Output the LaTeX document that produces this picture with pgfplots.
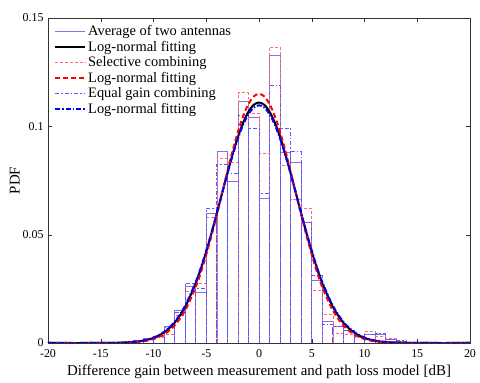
\documentclass[border=0pt]{standalone}
\usepackage{fontspec}
\setmainfont{Liberation Serif}
\usepackage{pgfplots}
\pgfplotsset{compat=1.18}
\usepackage{pgfplotstable}
\definecolor{avgpurple}{rgb}{0.55,0.43,0.88}
\definecolor{selred}{rgb}{1,0.43,0.43}
\definecolor{egcblue}{rgb}{0.35,0.35,1}

% histogram: bin centre, density
\pgfplotstableread{
x y
-12.5 0.0005
-11.5 0.0010
-10.5 0.0021
-9.5 0.0032
-8.5 0.0075
-7.5 0.0149
-6.5 0.0260
-5.5 0.0234
-4.5 0.0598
-3.5 0.0883
-2.5 0.0748
-1.5 0.1117
-0.5 0.1040
0.5 0.0666
1.5 0.1326
2.5 0.0880
3.5 0.0834
4.5 0.0555
5.5 0.0291
6.5 0.0098
7.5 0.0078
8.5 0.0060
9.5 0.0032
10.5 0.0040
11.5 0.0038
12.5 0.0015
13.5 0.0010
14.5 0.0005
15.5 0.0003
}\histavg

\pgfplotstableread{
x y
-12.5 0.0003
-11.5 0.0008
-10.5 0.0015
-9.5 0.0025
-8.5 0.0040
-7.5 0.0130
-6.5 0.0240
-5.5 0.0275
-4.5 0.0580
-3.5 0.0852
-2.5 0.0832
-1.5 0.1155
-0.5 0.1060
0.5 0.0877
1.5 0.1367
2.5 0.0821
3.5 0.0663
4.5 0.0621
5.5 0.0245
6.5 0.0132
7.5 0.0045
8.5 0.0040
9.5 0.0025
10.5 0.0055
11.5 0.0030
12.5 0.0022
13.5 0.0010
14.5 0.0005
15.5 0.0003
}\histsel

\pgfplotstableread{
x y
-12.5 0.0004
-11.5 0.0010
-10.5 0.0018
-9.5 0.0030
-8.5 0.0072
-7.5 0.0143
-6.5 0.0275
-5.5 0.0250
-4.5 0.0621
-3.5 0.0826
-2.5 0.0783
-1.5 0.1050
-0.5 0.0990
0.5 0.0690
1.5 0.1188
2.5 0.0990
3.5 0.0883
4.5 0.0555
5.5 0.0310
6.5 0.0088
7.5 0.0075
8.5 0.0057
9.5 0.0032
10.5 0.0040
11.5 0.0045
12.5 0.0015
13.5 0.0010
14.5 0.0005
15.5 0.0003
}\histegc

\pgfplotstableread{
x y
-20 0
-16 0
-15 0.00001
-14 0.00006
-13 0.00016
-12 0.00042
-11 0.00103
-10 0.00231
-9 0.00482
-8 0.00932
-7 0.01665
-6 0.02755
-5.5 0.03441
-5 0.04217
-4.5 0.05068
-4 0.05975
-3.5 0.06908
-3 0.07834
-2.5 0.08714
-2 0.09508
-1.5 0.10174
-1 0.10678
-0.5 0.10993
0 0.11100
0.5 0.10993
1 0.10678
1.5 0.10174
2 0.09508
2.5 0.08714
3 0.07834
3.5 0.06908
4 0.05975
4.5 0.05068
5 0.04217
5.5 0.03441
6 0.02755
7 0.01665
8 0.00932
9 0.00482
10 0.00231
11 0.00103
12 0.00042
13 0.00016
14 0.00006
15 0.00001
16 0
20 0
}\fitavg

\pgfplotstableread{
x y
-20 0
-16 0
-15 0.00001
-14 0.00003
-13 0.00010
-12 0.00029
-11 0.00075
-10 0.00181
-9 0.00398
-8 0.00805
-7 0.01502
-6 0.02577
-5.5 0.03273
-5 0.04070
-4.5 0.04959
-4 0.05916
-3.5 0.06913
-3 0.07913
-2.5 0.08870
-2 0.09739
-1.5 0.10474
-1 0.11032
-0.5 0.11381
0 0.11500
0.5 0.11381
1 0.11032
1.5 0.10474
2 0.09739
2.5 0.08870
3 0.07913
3.5 0.06913
4 0.05916
4.5 0.04959
5 0.04070
5.5 0.03273
6 0.02577
7 0.01502
8 0.00805
9 0.00398
10 0.00181
11 0.00075
12 0.00029
13 0.00010
14 0.00003
15 0.00001
16 0
20 0
}\fitsel

\pgfplotstableread{
x y
-20 0
-16 0
-15 0.00002
-14 0.00007
-13 0.00018
-12 0.00047
-11 0.00113
-10 0.00250
-9 0.00513
-8 0.00976
-7 0.01721
-6 0.02813
-5.5 0.03496
-5 0.04263
-4.5 0.05102
-4 0.05991
-3.5 0.06903
-3 0.07806
-2.5 0.08661
-2 0.09430
-1.5 0.10075
-1 0.10563
-0.5 0.10867
0 0.10970
0.5 0.10867
1 0.10563
1.5 0.10075
2 0.09430
2.5 0.08661
3 0.07806
3.5 0.06903
4 0.05991
4.5 0.05102
5 0.04263
5.5 0.03496
6 0.02813
7 0.01721
8 0.00976
9 0.00513
10 0.00250
11 0.00113
12 0.00047
13 0.00018
14 0.00007
15 0.00002
16 0
20 0
}\fitegc

\begin{document}
\begin{tikzpicture}
\begin{axis}[
  name=main,
  scale only axis,
  width=422bp, height=325bp,
  xmin=-20, xmax=20, ymin=0, ymax=0.15,
  xtick={-20,-15,-10,-5,0,5,10,15,20},
  xticklabels={-20,-15,-10,-5,0,5,10,15,20},
  ytick={0,0.05,0.1,0.15},
  yticklabels={0,0.05,0.1,0.15},
  tick align=inside,
  major tick length=4bp,
  axis line style={black!80},
  tick style={black!80},
  xticklabel style={font=\fontsize{12}{14}\selectfont, yshift=-3bp},
  yticklabel style={font=\fontsize{12}{14}\selectfont, xshift=-1bp},
  xlabel style={font=\fontsize{15}{17}\selectfont, yshift=-1bp},
  ylabel style={font=\fontsize{15}{17}\selectfont, yshift=-4bp},
  xlabel={Difference gain between measurement and path loss model [dB]},
  ylabel={PDF},
  legend style={at={(0,1)}, anchor=north west, draw=none, fill=none,
    xshift=3bp, yshift=-2bp,
    font=\fontsize{14.5}{16.2}\selectfont, row sep=0pt,
    inner xsep=3bp, inner ysep=3bp},
  legend cell align=left,
  legend image code/.code={\draw[#1] (0bp,0bp) -- (30bp,0bp);},
]
\addplot[ybar, bar width=1, bar shift=0pt, draw=avgpurple, fill=none, line width=0.6pt, forget plot] table {\histavg};
\addplot[ybar, bar width=1, bar shift=0pt, draw=selred, fill=none, line width=0.6pt, dash pattern=on 3pt off 2pt, forget plot] table {\histsel};
\addplot[ybar, bar width=1, bar shift=0pt, draw=egcblue, fill=none, line width=0.8pt, dash pattern=on 4pt off 2pt on 1.5pt off 2pt, forget plot] table {\histegc};

\addplot[black, line width=2pt, smooth, forget plot] table {\fitavg};
\addplot[red, line width=2pt, smooth, dash pattern=on 5pt off 3pt, forget plot] table {\fitsel};
\addplot[blue, line width=2pt, smooth, dash pattern=on 5pt off 2pt on 1.5pt off 2pt, forget plot] table {\fitegc};

\addlegendimage{draw=avgpurple, line width=0.6pt}
\addlegendentry{Average of two antennas}
\addlegendimage{draw=black, line width=2pt}
\addlegendentry{Log-normal fitting}
\addlegendimage{draw=selred, line width=0.6pt, dash pattern=on 3pt off 2pt}
\addlegendentry{Selective combining}
\addlegendimage{draw=red, line width=2pt, dash pattern=on 5pt off 3pt}
\addlegendentry{Log-normal fitting}
\addlegendimage{draw=egcblue, line width=0.8pt, dash pattern=on 4pt off 2pt on 1.5pt off 2pt}
\addlegendentry{Equal gain combining}
\addlegendimage{draw=blue, line width=2pt, dash pattern=on 5pt off 2pt on 1.5pt off 2pt}
\addlegendentry{Log-normal fitting}
\end{axis}
\path (main.south west) ++(-48bp,-37bp) coordinate (bbA);
\path (main.north east) ++(10bp,18bp) coordinate (bbB);
\path (bbA) rectangle (bbB);
\end{tikzpicture}
\end{document}
